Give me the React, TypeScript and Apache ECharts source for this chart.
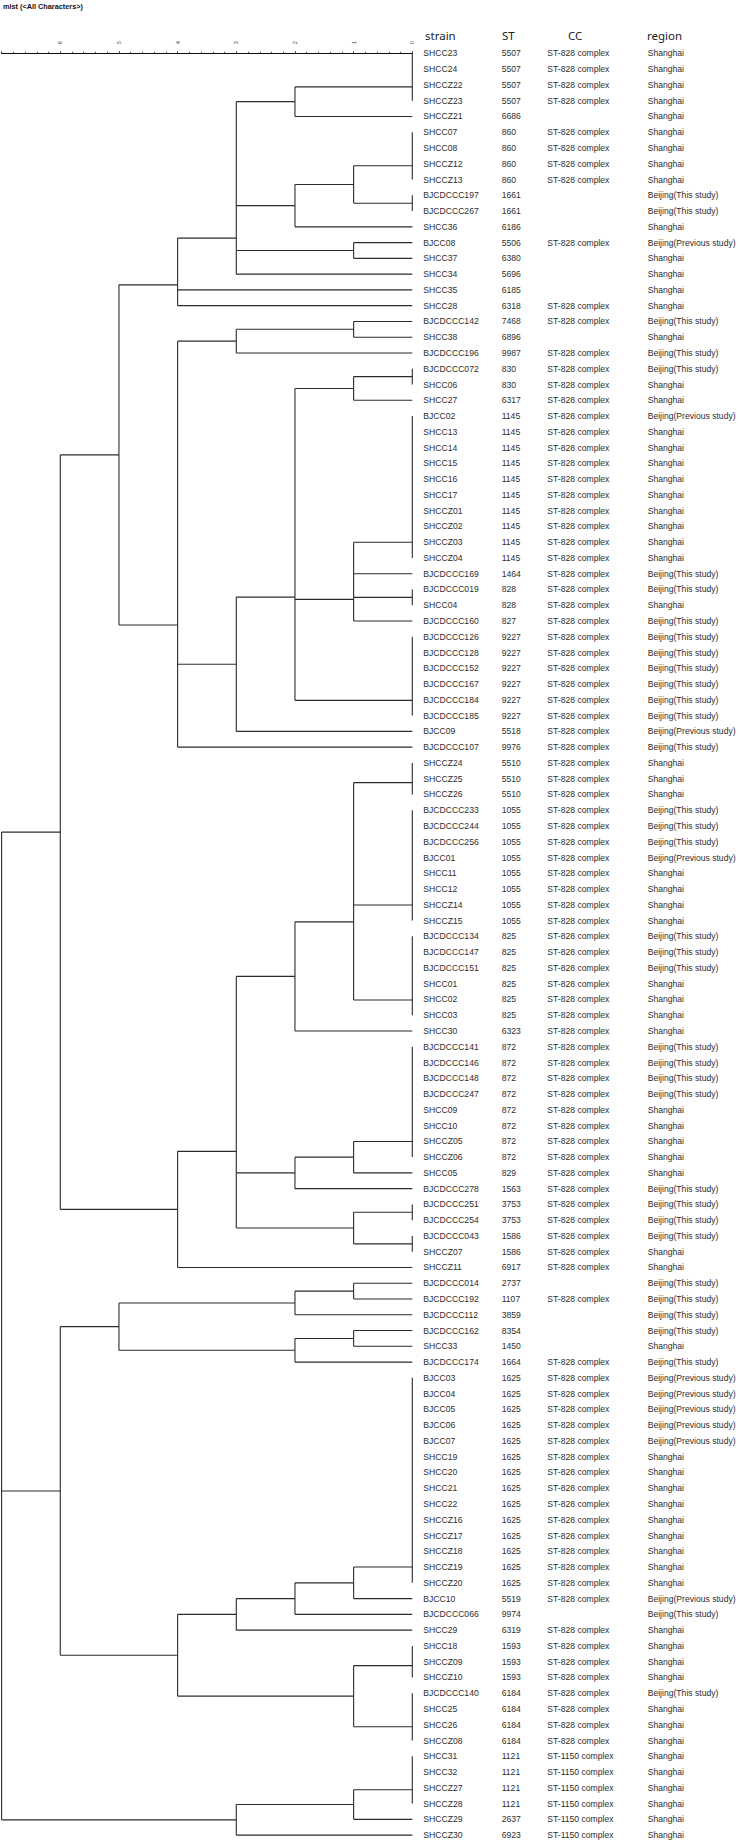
import React, { useEffect, useRef } from "react";
import * as echarts from "echarts";

const TITLE = "mlst (<All Characters>)";
const HEADERS = ["strain", "ST", "CC", "region"];
const AXIS_LABELS = [0, 1, 2, 3, 4, 5, 6];

const strains = [
  "SHCC23", "SHCC24", "SHCCZ22", "SHCCZ23", "SHCCZ21", "SHCC07", "SHCC08", "SHCCZ12", "SHCCZ13",
  "BJCDCCC197", "BJCDCCC267", "SHCC36", "BJCC08", "SHCC37", "SHCC34", "SHCC35", "SHCC28",
  "BJCDCCC142", "SHCC38", "BJCDCCC196", "BJCDCCC072", "SHCC06", "SHCC27", "BJCC02", "SHCC13",
  "SHCC14", "SHCC15", "SHCC16", "SHCC17", "SHCCZ01", "SHCCZ02", "SHCCZ03", "SHCCZ04",
  "BJCDCCC169", "BJCDCCC019", "SHCC04", "BJCDCCC160", "BJCDCCC126", "BJCDCCC128", "BJCDCCC152",
  "BJCDCCC167", "BJCDCCC184", "BJCDCCC185", "BJCC09", "BJCDCCC107", "SHCCZ24", "SHCCZ25",
  "SHCCZ26", "BJCDCCC233", "BJCDCCC244", "BJCDCCC256", "BJCC01", "SHCC11", "SHCC12", "SHCCZ14",
  "SHCCZ15", "BJCDCCC134", "BJCDCCC147", "BJCDCCC151", "SHCC01", "SHCC02", "SHCC03", "SHCC30",
  "BJCDCCC141", "BJCDCCC146", "BJCDCCC148", "BJCDCCC247", "SHCC09", "SHCC10", "SHCCZ05",
  "SHCCZ06", "SHCC05", "BJCDCCC278", "BJCDCCC251", "BJCDCCC254", "BJCDCCC043", "SHCCZ07",
  "SHCCZ11", "BJCDCCC014", "BJCDCCC192", "BJCDCCC112", "BJCDCCC162", "SHCC33", "BJCDCCC174",
  "BJCC03", "BJCC04", "BJCC05", "BJCC06", "BJCC07", "SHCC19", "SHCC20", "SHCC21", "SHCC22",
  "SHCCZ16", "SHCCZ17", "SHCCZ18", "SHCCZ19", "SHCCZ20", "BJCC10", "BJCDCCC066", "SHCC29",
  "SHCC18", "SHCCZ09", "SHCCZ10", "BJCDCCC140", "SHCC25", "SHCC26", "SHCCZ08", "SHCC31",
  "SHCC32", "SHCCZ27", "SHCCZ28", "SHCCZ29", "SHCCZ30",
];

const sts = [
  "5507", "5507", "5507", "5507", "6686", "860", "860", "860", "860",
  "1661", "1661", "6186", "5506", "6380", "5696", "6185", "6318",
  "7468", "6896", "9987", "830", "830", "6317", "1145", "1145",
  "1145", "1145", "1145", "1145", "1145", "1145", "1145", "1145",
  "1464", "828", "828", "827", "9227", "9227", "9227",
  "9227", "9227", "9227", "5518", "9976", "5510", "5510",
  "5510", "1055", "1055", "1055", "1055", "1055", "1055", "1055",
  "1055", "825", "825", "825", "825", "825", "825", "6323",
  "872", "872", "872", "872", "872", "872", "872",
  "872", "829", "1563", "3753", "3753", "1586", "1586",
  "6917", "2737", "1107", "3859", "8354", "1450", "1664",
  "1625", "1625", "1625", "1625", "1625", "1625", "1625", "1625", "1625",
  "1625", "1625", "1625", "1625", "1625", "5519", "9974", "6319",
  "1593", "1593", "1593", "6184", "6184", "6184", "6184", "1121",
  "1121", "1121", "1121", "2637", "6923",
];

const C8 = "ST-828 complex";
const C1150 = "ST-1150 complex";
const ccs = [
  C8, C8, C8, C8, "", C8, C8, C8, C8,
  "", "", "", C8, "", "", "", C8,
  C8, "", C8, C8, C8, C8, C8, C8,
  C8, C8, C8, C8, C8, C8, C8, C8,
  C8, C8, C8, C8, C8, C8, C8,
  C8, C8, C8, C8, C8, C8, C8,
  C8, C8, C8, C8, C8, C8, C8, C8,
  C8, C8, C8, C8, C8, C8, C8, C8,
  C8, C8, C8, C8, C8, C8, C8,
  C8, C8, C8, C8, C8, C8, C8,
  C8, "", C8, "", "", "", C8,
  C8, C8, C8, C8, C8, C8, C8, C8, C8,
  C8, C8, C8, C8, C8, C8, "", C8,
  C8, C8, C8, C8, C8, C8, C8, C1150,
  C1150, C1150, C1150, C1150, C1150,
];

const SH = "Shanghai";
const BT = "Beijing(This study)";
const BP = "Beijing(Previous study)";
const regions = [
  SH, SH, SH, SH, SH, SH, SH, SH, SH,
  BT, BT, SH, BP, SH, SH, SH, SH,
  BT, SH, BT, BT, SH, SH, BP, SH,
  SH, SH, SH, SH, SH, SH, SH, SH,
  BT, BT, SH, BT, BT, BT, BT,
  BT, BT, BT, BP, BT, SH, SH,
  SH, BT, BT, BT, BP, SH, SH, SH,
  SH, BT, BT, BT, SH, SH, SH, SH,
  BT, BT, BT, BT, SH, SH, SH,
  SH, SH, BT, BT, BT, BT, SH,
  SH, BT, BT, BT, BT, SH, BT,
  BP, BP, BP, BP, BP, SH, SH, SH, SH,
  SH, SH, SH, SH, SH, BP, BT, SH,
  SH, SH, SH, BT, SH, SH, SH, SH,
  SH, SH, SH, SH, SH,
];

// Dendrogram: [mergeHeight, ...children]; a number is a leaf row index.
const tree: any[] = [7,
  [6,
    [5,
      [4,
        [3,
          [2, [0, 0, 1, 2, 3], 4],
          [2, [1, [0, 5, 6, 7, 8], [0, 9, 10]], 11],
          [1, 12, 13],
          14],
        15, 16],
      [4,
        [3, [1, 17, 18], 19],
        [3,
          [2,
            [1, [0, 20, 21], 22],
            [1, [0, 23, 24, 25, 26, 27, 28, 29, 30, 31, 32], 33, [0, 34, 35], 36],
            [0, 37, 38, 39, 40, 41, 42]],
          43],
        44]],
    [4,
      [3,
        [2, [1, [0, 45, 46, 47], [0, 48, 49, 50, 51, 52, 53, 54, 55], [0, 56, 57, 58, 59, 60, 61]], 62],
        [2, [1, [0, 63, 64, 65, 66, 67, 68, 69, 70], 71], 72],
        [1, [0, 73, 74], [0, 75, 76]]],
      77]],
  [6,
    [5,
      [2, [1, 78, 79], 80],
      [2, [1, 81, 82], 83]],
    [4,
      [3, [2, [1, [0, 84, 85, 86, 87, 88, 89, 90, 91, 92, 93, 94, 95, 96, 97], 98], 99], 100],
      [1, [0, 101, 102, 103], [0, 104, 105, 106, 107]]]],
  [3, [1, [0, 108, 109, 110, 111], 112], 113],
];

function buildSegments(root: any): number[][] {
  const segs: number[][] = [];
  const walk = (n: any): { pos: number; h: number } => {
    if (typeof n === "number") return { pos: n, h: 0 };
    const h = n[0];
    const kids = n.slice(1).map(walk);
    kids.forEach((k: any) => {
      if (k.h < h) segs.push([k.h, k.pos, h, k.pos]);
    });
    const ys = kids.map((k: any) => k.pos);
    segs.push([h, Math.min(...ys), h, Math.max(...ys)]);
    let p = ys[0];
    for (let i = 1; i < ys.length; i++) p = (p + ys[i]) / 2;
    return { pos: p, h };
  };
  walk(root);
  return segs;
}

const ROW_PX = 15.785;
const GRID_TOP = 45.5;
const COL_X = [423.3, 501.7, 547.3, 647.7];
const HEAD_X = [425, 502, 568, 647];
const ROW_FONT = '"Liberation Sans", Arial, sans-serif';

export default function App() {
  const ref = useRef<HTMLDivElement>(null);
  useEffect(() => {
    if (!ref.current) return;
    const chart = echarts.init(ref.current, null, { renderer: "svg" });
    const n = strains.length;
    const segs = buildSegments(tree);
    const option: any = {
      animation: false,
      backgroundColor: "#ffffff",
      grid: { left: 1.6, top: GRID_TOP, width: 410.7, height: n * ROW_PX, containLabel: false },
      xAxis: {
        type: "value",
        min: 0,
        max: 7,
        interval: 1,
        inverse: true,
        position: "top",
        axisLine: { show: true, lineStyle: { color: "#111", width: 1 } },
        axisTick: { show: true, length: 2, lineStyle: { color: "#333" } },
        minorTick: { show: true, splitNumber: 5, length: 1.5, lineStyle: { color: "#444" } },
        axisLabel: {
          show: true,
          rotate: 90,
          fontSize: 5,
          margin: 1.5,
          color: "#333",
          formatter: (v: number) => (AXIS_LABELS.includes(v) ? String(v) : ""),
        },
        splitLine: { show: false },
        minorSplitLine: { show: false },
      },
      yAxis: { type: "value", min: -0.5, max: n - 0.5, inverse: true, show: false },
      series: [
        {
          type: "custom",
          coordinateSystem: "cartesian2d",
          data: segs,
          dimensions: ["x1", "y1", "x2", "y2"],
          encode: { x: [0, 2], y: [1, 3] },
          clip: false,
          silent: true,
          renderItem: (params: any, api: any) => {
            const a = api.coord([api.value(0), api.value(1)]);
            const b = api.coord([api.value(2), api.value(3)]);
            return {
              type: "line",
              shape: { x1: a[0], y1: a[1], x2: b[0], y2: b[1] },
              style: { stroke: "#2b2b2b", lineWidth: 1.1 },
            };
          },
        },
        {
          type: "custom",
          coordinateSystem: "cartesian2d",
          data: strains.map((_, i) => [0, i]),
          encode: { x: 0, y: 1 },
          clip: false,
          silent: true,
          renderItem: (params: any, api: any) => {
            const i = params.dataIndex;
            const y = api.coord([0, api.value(1)])[1];
            const vals = [strains[i], sts[i], ccs[i], regions[i]];
            return {
              type: "group",
              children: vals
                .map((t, j) => ({
                  type: "text",
                  x: COL_X[j],
                  y: y,
                  style: {
                    text: t,
                    fill: "#2e2e2e",
                    fontSize: 8.6,
                    fontFamily: ROW_FONT,
                    align: "left",
                    verticalAlign: "middle",
                  },
                }))
                .filter((e) => e.style.text !== ""),
            };
          },
        },
      ],
      graphic: [
        {
          type: "text",
          x: 3,
          y: 6,
          style: {
            text: TITLE,
            fontSize: 7.3,
            fontWeight: "bold",
            fontFamily: ROW_FONT,
            fill: "#111",
            verticalAlign: "middle",
          },
        },
        ...HEADERS.map((h, j) => ({
          type: "text",
          x: HEAD_X[j],
          y: 35.5,
          style: {
            text: h,
            fontSize: 11.5,
            fontFamily: '"Noto Sans", sans-serif',
            fill: "#222",
            verticalAlign: "middle",
          },
        })),
      ],
    };
    chart.setOption(option);
    return () => chart.dispose();
  }, []);
  return (
    <div
      ref={ref}
      style={{ position: "absolute", left: 0, top: 0, width: 738, height: 1843, background: "#fff" }}
    />
  );
}
